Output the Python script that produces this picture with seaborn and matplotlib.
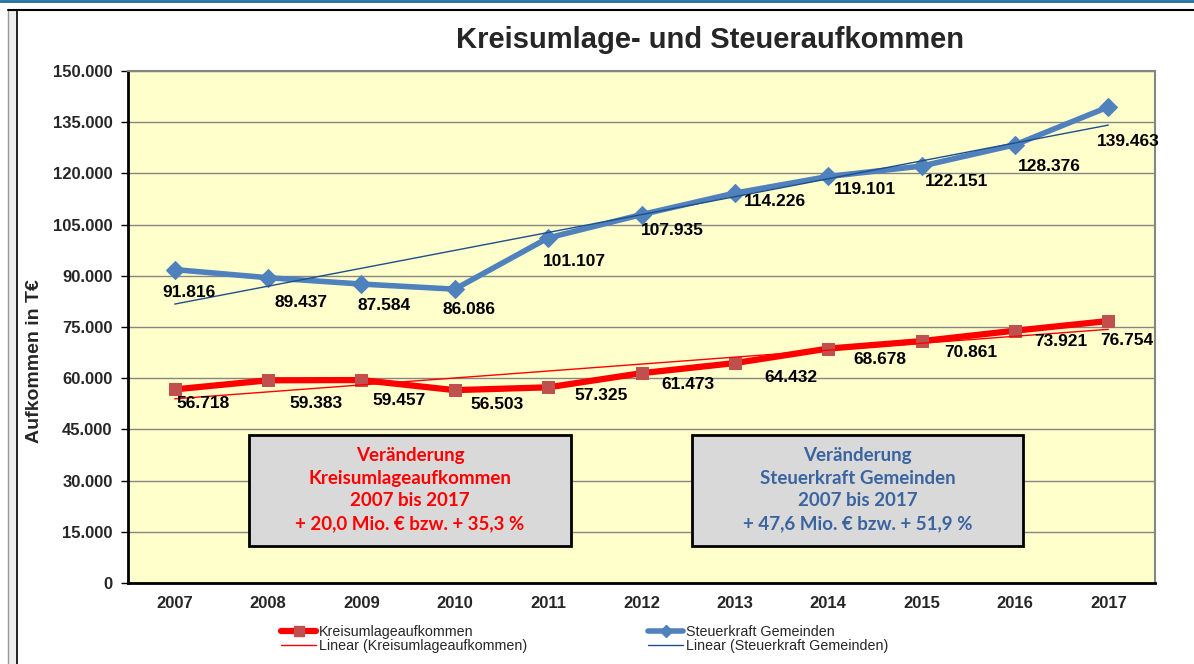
import numpy as np
import pandas as pd
import matplotlib
matplotlib.use("Agg")
import matplotlib.pyplot as plt
import seaborn as sns
from matplotlib.lines import Line2D
from matplotlib.patches import Rectangle

# ---------------- data ----------------
years = ["2007", "2008", "2009", "2010", "2011", "2012", "2013", "2014", "2015", "2016", "2017"]
kreisumlage = [56718, 59383, 59457, 56503, 57325, 61473, 64432, 68678, 70861, 73921, 76754]
steuerkraft = [91816, 89437, 87584, 86086, 101107, 107935, 114226, 119101, 122151, 128376, 139463]
y_ticks = [0, 15000, 30000, 45000, 60000, 75000, 90000, 105000, 120000, 135000, 150000]

title = "Kreisumlage- und Steueraufkommen"
y_label = "Aufkommen in T€"
series_names = ["Kreisumlageaufkommen", "Steuerkraft Gemeinden"]
box_red_text = "Veränderung\nKreisumlageaufkommen\n2007 bis 2017\n+ 20,0 Mio. € bzw. + 35,3 %"
box_blue_text = "Veränderung\nSteuerkraft Gemeinden\n2007 bis 2017\n+ 47,6 Mio. € bzw. + 51,9 %"

# label offsets (pixels: right, down) – styling only
off_blue = [(14, 23), (33, 25), (23, 21), (14, 20), (26, 24), (31, 16), (40, 8), (37, 13), (35, 15), (34, 22), (20, 35)]
off_red = [(28, 14), (48, 23), (38, 20), (42, 14), (53, 8), (46, 11), (56, 14), (52, 11), (49, 11), (46, 11), (18, 19)]

# ---------------- style ----------------
sns.set_theme(style="white")
plt.rcParams["font.family"] = ["Liberation Sans", "DejaVu Sans"]

W, H = 1194, 664
fig = plt.figure(figsize=(W / 100, H / 100), dpi=100)
fig.patch.set_facecolor("white")

def fx(px):
    return px / W

def fy(py):
    return 1 - py / H

ax = fig.add_axes([fx(128), (H - 583) / H, 1027 / W, 512 / H])
ax.set_facecolor("#FFFFCC")

x = np.arange(len(years))
df = pd.DataFrame({"x": x, "kreis": kreisumlage, "steuer": steuerkraft})

RED = "#FF0000"
RED_M = "#C0504D"
BLUE = "#4F81BD"
BLUE_T = "#1F4E8C"

sns.lineplot(data=df, x="x", y="kreis", ax=ax, color=RED, lw=4.5, marker="s",
             markersize=9, markerfacecolor=RED_M, markeredgecolor=RED_M, zorder=3)
sns.lineplot(data=df, x="x", y="steuer", ax=ax, color=BLUE, lw=4.0, marker="D",
             markersize=9, markerfacecolor=BLUE, markeredgecolor=BLUE, zorder=3)
sns.regplot(data=df, x="x", y="kreis", ax=ax, scatter=False, ci=None, truncate=True,
            line_kws=dict(color=RED, lw=1.0, zorder=4))
sns.regplot(data=df, x="x", y="steuer", ax=ax, scatter=False, ci=None, truncate=True,
            line_kws=dict(color=BLUE_T, lw=1.0, zorder=4))

def fmt(v):
    return f"{v:,.0f}".replace(",", ".")

for i, v in enumerate(steuerkraft):
    dx, dy = off_blue[i]
    ax.annotate(fmt(v), (x[i], v), xytext=(dx, -dy), textcoords="offset pixels",
                ha="center", va="center", fontsize=12.5, fontweight="bold", color="black", zorder=5)
for i, v in enumerate(kreisumlage):
    dx, dy = off_red[i]
    ax.annotate(fmt(v), (x[i], v), xytext=(dx, -dy), textcoords="offset pixels",
                ha="center", va="center", fontsize=12.5, fontweight="bold", color="black", zorder=5)

# axes
ax.set_xlim(-0.5, len(years) - 0.5)
ax.set_ylim(0, 150000)
ax.set_yticks(y_ticks)
ax.set_yticklabels([fmt(v) for v in y_ticks], fontsize=12, fontweight="bold")
ax.set_xticks(np.arange(-0.5, len(years), 1.0))
ax.set_xticklabels([])
ax.set_xticks(x, minor=True)
ax.set_xticklabels(years, minor=True, fontsize=12, fontweight="bold")
ax.tick_params(axis="x", which="major", direction="inout", length=8, width=1, color="black")
ax.tick_params(axis="x", which="minor", length=0, pad=9)
ax.tick_params(axis="y", direction="out", length=5, width=1, color="black", pad=6, left=True)
ax.set_xlabel("")
ax.set_ylabel("")
ax.yaxis.grid(True, color="#868686", lw=1)
ax.xaxis.grid(False)
ax.set_axisbelow(True)
for s in ["left", "bottom"]:
    ax.spines[s].set_color("black")
    ax.spines[s].set_linewidth(2)
for s in ["top", "right"]:
    ax.spines[s].set_color("#868686")
    ax.spines[s].set_linewidth(1.5)

# info boxes
box_font = ["Lato", "DejaVu Sans"]
for (l, r, t, b), txt, col in [((249, 571, 435, 546), box_red_text, RED),
                               ((692, 1023, 435, 546), box_blue_text, "#3A64A0")]:
    x0 = (l - 128) / 1027
    y0 = (583 - b) / 512
    w = (r - l) / 1027
    h = (b - t) / 512
    ax.add_patch(Rectangle((x0, y0), w, h, transform=ax.transAxes, facecolor="#D9D9D9",
                           edgecolor="black", lw=2, zorder=6))
    ax.text(x0 + w / 2, y0 + h / 2 + 0.002, txt, transform=ax.transAxes, ha="center", va="center",
            fontsize=13.5, fontweight="bold", color=col, family=box_font, linespacing=1.42, zorder=7)

# title & y label
fig.text(fx(710), fy(40), title, ha="center", va="center", fontsize=21, fontweight="bold")
fig.text(fx(35), fy(361), y_label, ha="center", va="center", rotation=90, fontsize=14, fontweight="bold")

# legend
h_red = Line2D([], [], color=RED, lw=4.5, marker="s", markersize=7, markerfacecolor=RED_M, markeredgecolor=RED_M)
h_red_t = Line2D([], [], color=RED, lw=1.0)
h_blue = Line2D([], [], color=BLUE, lw=4.0, marker="D", markersize=6, markerfacecolor=BLUE, markeredgecolor=BLUE)
h_blue_t = Line2D([], [], color=BLUE_T, lw=1.0)
leg_kw = dict(loc="upper left", frameon=False, fontsize=10.3, handlelength=2.45, handletextpad=0.2,
              labelspacing=0.0, borderpad=0, borderaxespad=0)
fig.legend(handles=[h_red, h_red_t], labels=[series_names[0], f"Linear ({series_names[0]})"],
           bbox_to_anchor=(fx(281), fy(625)), **leg_kw)
fig.legend(handles=[h_blue, h_blue_t], labels=[series_names[1], f"Linear ({series_names[1]})"],
           bbox_to_anchor=(fx(648), fy(625)), **leg_kw)

# outer frame decorations
fig.add_artist(Line2D([0, 1], [fy(1), fy(1)], transform=fig.transFigure, color="#1F6FA0", lw=2))
fig.add_artist(Rectangle((fx(8), 0), fx(9), fy(10), transform=fig.transFigure,
                         facecolor="#EFEFEF", edgecolor="none"))
fig.add_artist(Line2D([fx(8), fx(8)], [0, fy(10)], transform=fig.transFigure, color="#9A9A9A", lw=1))
fig.add_artist(Line2D([fx(17), fx(17)], [0, fy(10)], transform=fig.transFigure, color="black", lw=1.2))
fig.add_artist(Line2D([fx(8), 1], [fy(10), fy(10)], transform=fig.transFigure, color="black", lw=1.5))

fig.savefig("out.png", dpi=100)
